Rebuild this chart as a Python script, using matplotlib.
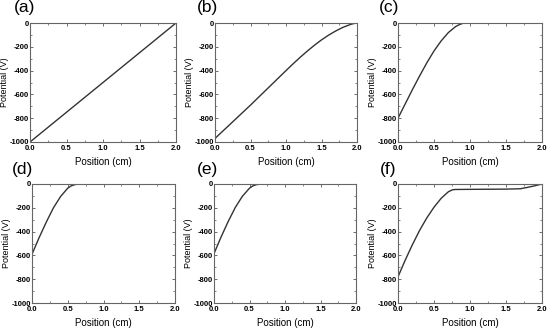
import matplotlib
matplotlib.use("Agg")
import matplotlib.pyplot as plt
from matplotlib.ticker import MultipleLocator

plt.rcParams["font.family"] = ["Liberation Sans", "DejaVu Sans"]

# Data
xa = [0.0, 2.0]
ya = [-1000, 0]

xb = [0.0, 0.25, 0.5, 0.75, 1.0, 1.1, 1.2, 1.3, 1.4, 1.5, 1.6, 1.7, 1.8, 1.9, 1.95, 2.0]
yb = [-970, -830, -690, -545, -400, -343, -288, -236, -187, -142, -102, -67, -37, -14, -5, 0]

xc = [0.0, 0.1, 0.2, 0.3, 0.4, 0.5, 0.6, 0.7, 0.8, 0.85, 0.9, 0.93, 1.0, 2.0]
yc = [-800, -680, -560, -445, -335, -235, -150, -80, -30, -14, -3, 0, 0, 0]

xd = [0.0, 0.05, 0.1, 0.2, 0.3, 0.4, 0.5, 0.55, 0.6, 0.65, 0.7, 2.0]
yd = [-590, -520, -450, -320, -200, -105, -35, -15, -5, -1, 0, 0]

xe = [0.0, 0.05, 0.1, 0.2, 0.3, 0.4, 0.5, 0.55, 0.6, 0.65, 0.7, 2.0]
ye = [-585, -515, -445, -315, -197, -103, -35, -15, -5, -1, 0, 0]

xf = [0.0, 0.1, 0.2, 0.3, 0.4, 0.5, 0.6, 0.7, 0.76, 0.8, 1.0, 1.5, 1.7, 1.8, 1.9, 2.0]
yf = [-780, -640, -510, -390, -285, -195, -120, -65, -48, -46, -45, -43, -40, -28, -15, 0]

labels = ["(a)", "(b)", "(c)", "(d)", "(e)", "(f)"]
series = [(xa, ya), (xb, yb), (xc, yc), (xd, yd), (xe, ye), (xf, yf)]

xticks = [0.0, 0.5, 1.0, 1.5, 2.0]
yticks = [-1000, -800, -600, -400, -200, 0]

W, H = 550, 331
# (left, right, top, bottom) in pixels
boxes = [
    (30, 176, 23, 142),
    (215, 357, 23, 142),
    (398, 542, 23, 142),
    (32, 175, 184, 303),
    (214, 356, 184, 303),
    (398, 542, 184, 303),
]
label_pos = [(14, 0), (197, 0), (379, 0), (12, 162), (197, 162), (380, 162)]

fig = plt.figure(figsize=(W / 100, H / 100), dpi=100)
for i, ((l, r, t, b), (x, y)) in enumerate(zip(boxes, series)):
    ax = fig.add_axes([l / W, 1 - b / H, (r - l) / W, (b - t) / H])
    ax.plot(x, y, color="#333333", lw=1.0)
    ax.set_xlim(0, 2)
    ax.set_ylim(-1000, 0)
    ax.set_xticks(xticks)
    ax.set_yticks(yticks)
    ax.set_xticklabels([f"{v:.1f}" for v in xticks], fontsize=5.5, fontweight="bold")
    ax.set_yticklabels([f"{v}" for v in yticks], fontsize=5.5, fontweight="bold")
    ax.xaxis.set_minor_locator(MultipleLocator(0.25))
    ax.yaxis.set_minor_locator(MultipleLocator(100))
    ax.tick_params(which="both", direction="in", top=True, right=True, colors="#555555", labelcolor="black")
    ax.tick_params(axis="y", which="major", pad=0.8)
    ax.tick_params(axis="x", which="major", pad=2)
    ax.tick_params(which="major", length=2.5, width=0.6)
    ax.tick_params(which="minor", length=1.5, width=0.5)
    for s in ax.spines.values():
        s.set_color("#666666")
        s.set_linewidth(0.8)
    ax.set_xlabel("Position (cm)", fontsize=7, labelpad=4)
    ax.set_ylabel("Potential (V)", fontsize=6.5, labelpad=0.5)
    lx, ly = label_pos[i]
    fig.text(lx / W, 1 - ly / H, labels[i], fontsize=12.5, ha="left", va="top")

fig.savefig("out.png", dpi=100)
